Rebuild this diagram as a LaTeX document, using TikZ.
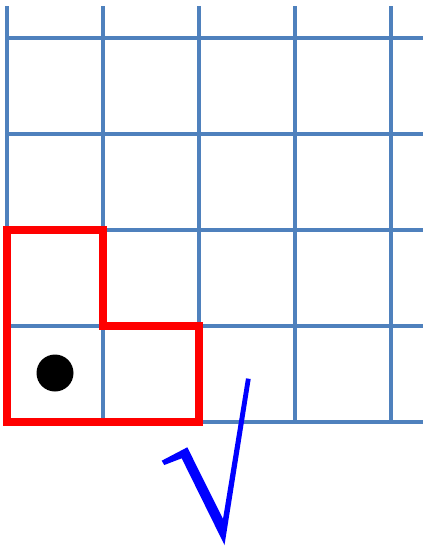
\documentclass[tikz,border=0pt]{standalone}
\definecolor{gridblue}{RGB}{79,129,189}
\definecolor{checkblue}{RGB}{0,0,255}
\tikzset{
  gridline/.style={draw=gridblue, line width=4pt},
  region/.style={draw=red, line width=7.5pt, line join=miter},
  marker/.style={fill=black},
  tick/.style={fill=checkblue}
}
\begin{document}
\begin{tikzpicture}[x=1pt,y=-1pt]
\useasboundingbox (0,0) rectangle (423,549);
% grid
\foreach \x in {7,103,199,295,391} \draw[gridline] (\x,6) -- (\x,422);
\foreach \y in {38,134,230,326,422} \draw[gridline] (5,\y) -- (423,\y);
% red region
\draw[region] (7,230) -- (103,230) -- (103,326) -- (199,326) -- (199,422) -- (7,422) -- cycle;
% dot
\fill[marker] (55,373) circle (18.5);
% check mark
\fill[tick] (161.7,460.7) -- (187.3,447.3) -- (223,519) -- (246,378.3) -- (250.7,379) -- (224.5,545) -- (181.7,458.3) -- (164.3,465) -- cycle;
\end{tikzpicture}
\end{document}
